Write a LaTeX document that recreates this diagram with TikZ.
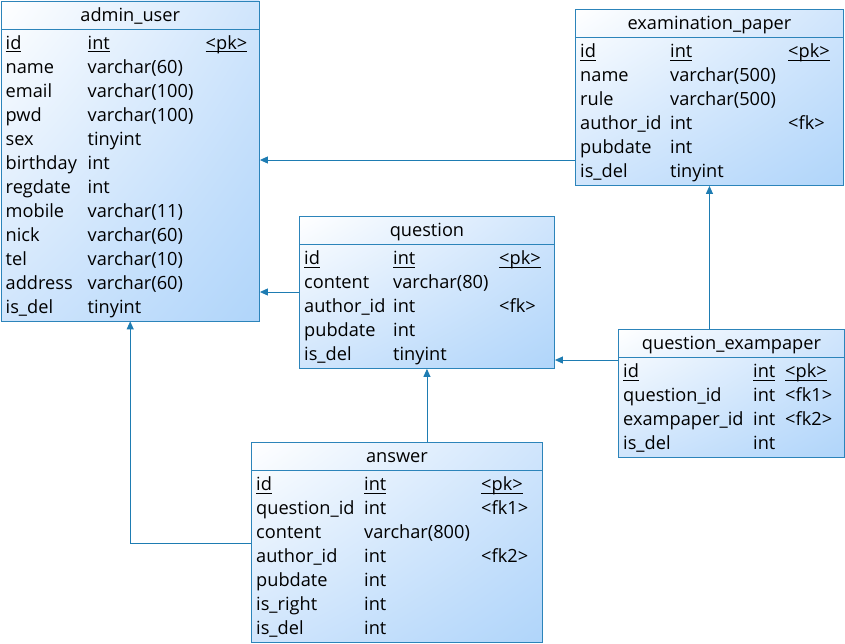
\documentclass[tikz,border=0pt]{standalone}
\usepackage{fontspec}
\setmainfont{Open Sans}
\usetikzlibrary{arrows.meta,calc,shadings}
\definecolor{lnk}{RGB}{30,124,178}
\definecolor{bdr}{RGB}{44,132,186}
\definecolor{fillA}{RGB}{208,229,252}
\definecolor{fillB}{RGB}{176,213,250}
\newcommand\ulx[1]{\setbox0\hbox{#1}\rlap{\rule[-3pt]{\wd0}{1pt}}\box0}
\tikzset{
  tbl/.style={draw=bdr, line width=0.9pt, anchor=north west, inner sep=0pt,
    upper left=white, upper right=fillA, lower left=fillA, lower right=fillB},
  ttl/.style={anchor=base, inner sep=0pt, font=\fontsize{18.2}{20}\selectfont, text=black},
  cell/.style={anchor=base west, inner sep=0pt, font=\fontsize{18.2}{20}\selectfont, text=black},
  fk/.style={draw=lnk, line width=0.9pt, -{Triangle[length=8pt,width=7pt]}},
}
% #1 name, #2 x, #3 y, #4 width, #5 title, #6 col2 offset, #7 col3 offset, #8 nrows, #9 rows
\newcommand\erbox[9]{%
  \node[tbl, minimum width=#4pt, minimum height={32pt+24pt*#8}] (#1) at (#2,#3) {};
  \draw[draw=bdr, line width=0.9pt] ([yshift=-28.5pt]#1.north west) -- ([yshift=-28.5pt]#1.north east);
  \node[ttl] (#1-t) at ($(#1.north)+(0,20.5)$) {#5};
  \foreach \a/\b/\c [count=\i from 0] in {#9} {
    \ifnum\i=0
      \node[cell] (#1-a\i) at ($(#1.north west)+(5,48.5+24*\i)$) {\ulx{\a}};
      \node[cell] (#1-b\i) at ($(#1.north west)+(#6,48.5+24*\i)$) {\ulx{\b}};
      \node[cell] (#1-c\i) at ($(#1.north west)+(#7,48.5+24*\i)$) {\ulx{\c}};
    \else
      \node[cell] (#1-a\i) at ($(#1.north west)+(5,48.5+24*\i)$) {\a};
      \node[cell] (#1-b\i) at ($(#1.north west)+(#6,48.5+24*\i)$) {\b};
      \node[cell] (#1-c\i) at ($(#1.north west)+(#7,48.5+24*\i)$) {\c};
    \fi
  }%
}
\begin{document}
\begin{tikzpicture}[x=1pt,y=-1pt]
\useasboundingbox (0,0) rectangle (845,643);
\erbox{admin}{0.5}{0.5}{258.5}{admin\_user}{87}{205}{12}{id/int/<pk>,name/varchar(60)/{},email/varchar(100)/{},pwd/varchar(100)/{},sex/tinyint/{},birthday/int/{},regdate/int/{},mobile/varchar(11)/{},nick/varchar(60)/{},tel/varchar(10)/{},address/varchar(60)/{},is\_del/tinyint/{}}
\erbox{ep}{575}{9}{268}{examination\_paper}{95}{213}{6}{id/int/<pk>,name/varchar(500)/{},rule/varchar(500)/{},author\_id/int/<fk>,pubdate/int/{},is\_del/tinyint/{}}
\erbox{q}{299}{216}{255}{question}{94}{200}{5}{id/int/<pk>,content/varchar(80)/{},author\_id/int/<fk>,pubdate/int/{},is\_del/tinyint/{}}
\erbox{qe}{618}{329}{226}{question\_exampaper}{135}{167}{4}{id/int/<pk>,question\_id/int/<fk1>,exampaper\_id/int/<fk2>,is\_del/int/{}}
\erbox{ans}{251}{442}{291}{answer}{113}{230}{7}{id/int/<pk>,question\_id/int/<fk1>,content/varchar(800)/{},author\_id/int/<fk2>,pubdate/int/{},is\_right/int/{},is\_del/int/{}}
% connectors
\draw[fk] (ep.west |- 0,160) -- (admin.east |- 0,160);
\draw[fk] (q.west |- 0,292) -- (admin.east |- 0,292);
\draw[fk] (qe.west |- 0,360) -- (q.east |- 0,360);
\draw[fk] (qe.north -| ep.south) -- (ep.south);
\draw[fk] (ans.north -| q.south) -- (q.south);
\draw[fk] (ans.west |- 0,543) -| (admin.south);
\end{tikzpicture}
\end{document}
